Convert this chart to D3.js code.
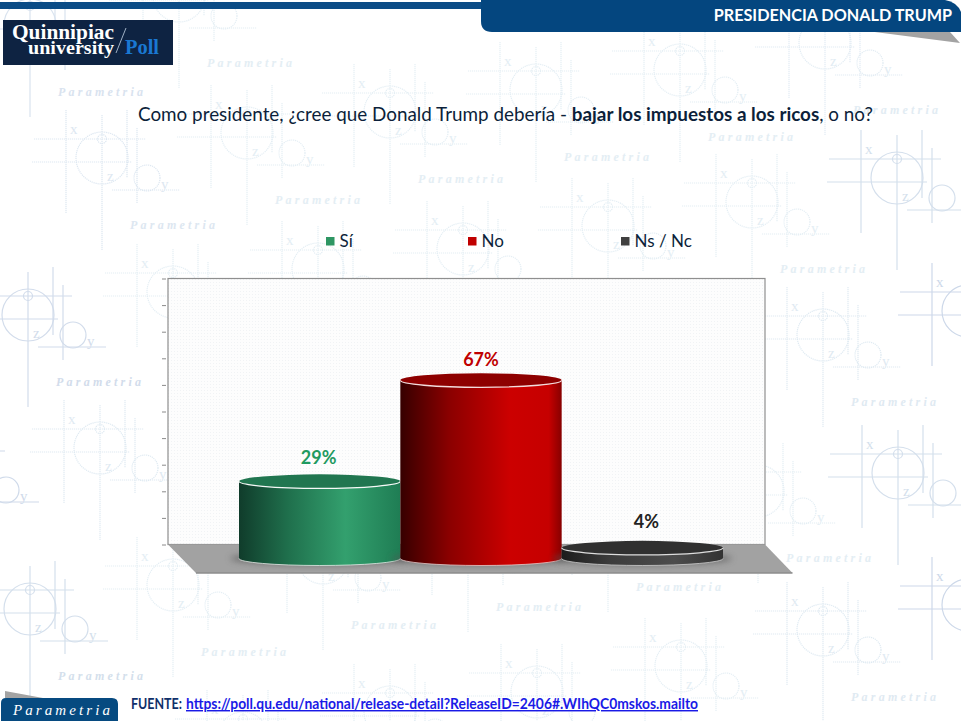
<!DOCTYPE html>
<html>
<head>
<meta charset="utf-8">
<script src="https://cdn.jsdelivr.net/npm/d3@7"></script>
<style>
  html, body { margin: 0; padding: 0; background: #fff; }
  svg { display: block; }
  text { font-family: Lato, "Noto Sans", sans-serif; }
</style>
</head>
<body>
<div id="chart"></div>
<script>
// chart data
const categories = ["Sí", "No", "Ns / Nc"];
const values = [29, 67, 4];
const valueLabels = ["29%", "67%", "4%"];
const axisTicks = [0, 10, 20, 30, 40, 50, 60, 70, 80, 90, 100];

// text
const headerTitle = "PRESIDENCIA DONALD TRUMP";
const sourceLabel = "FUENTE:";
const sourceUrl = "https://poll.qu.edu/national/release-detail?ReleaseID=2406#.WIhQC0mskos.mailto";

// looks
const barColors = [
  { top: "#217650", rim: "#f6f9f7", stops: [[0, "#103c2b"], [.3, "#1f6f4c"], [.66, "#33a06e"], [1, "#1f7d54"]] },
  { top: "#8e0000", rim: "#f3dcdc", stops: [[0, "#360000"], [.3, "#8a0000"], [.68, "#cc0000"], [.92, "#c60000"], [1, "#870000"]] },
  { top: "#303030", rim: "#dddddd", stops: [[0, "#1c1c1c"], [.3, "#3c3c3c"], [.7, "#4c4c4c"], [1, "#333333"]] }
];
const labelColors = ["#1f9a60", "#c00000", "#222222"];
const legendColors = ["#2e9663", "#c00000", "#404040"];
const legendX = [326, 468, 621];
const labelNudge = [[-1, 0], [0, 3], [4, -3]];

// watermark: big circle centre, strength (1 solid, 0 dotted, .5 in between)
const marks = [
  [30, 25, .5], [102, 158, .3], [247, 133, 0], [390, 112, 0], [179, -4, 0], [536, 90, 0],
  [680, 70, 0], [825, 43, .1], [897, 178, .7], [752, 202, 0], [608, 226, 0], [463, 249, 0],
  [318, 269, 0], [173, 292, 0], [28, 315, .8], [-39, 470, .9], [100, 448, .2], [173, 585, 0],
  [30, 609, .7], [323, 558, 0], [468, 540, 0], [608, 520, 0], [758, 491, 0], [823, 335, .2],
  [898, 473, .7], [968, 311, 1], [968, 605, 1], [823, 630, .2], [681, 666, 0], [537, 692, 0],
  [390, 712, 0], [243, 738, 0]
];
const markLines = [
  [0, -43, 0, 92], [-36, -48, -36, 55], [25, -48, 25, 20], [35, -30, 35, 45],
  [-68, -19, 44, -19], [-70, 4, 30, 4], [10, 32, 78, 32]
];

const width = 961, height = 721;
const svg = d3.select("#chart").append("svg")
    .attr("width", width)
    .attr("height", height)
    .attr("viewBox", [0, 0, width, height]);
const defs = svg.append("defs");

const markColor = d => d3.interpolateRgb("#e4eef4", "#cdd8e9")(d[2]);

// background watermark
const mark = svg.append("g").selectAll("g")
  .data(marks)
  .join("g")
    .attr("transform", d => `translate(${d[0]},${d[1]})`)
    .attr("fill", "none")
    .attr("stroke", markColor)
    .attr("stroke-width", 1.2)
    .attr("stroke-dasharray", d => d[2] > .4 ? null : "1.2 .8");

mark.selectAll("line")
  .data(markLines)
  .join("line")
    .attr("x1", d => d[0]).attr("y1", d => d[1])
    .attr("x2", d => d[2]).attr("y2", d => d[3]);
mark.append("circle").attr("r", 26);
mark.append("circle").attr("cy", -19).attr("r", 4.5);
mark.append("circle").attr("cx", 45).attr("cy", 20).attr("r", 13);

// no text for the parts that sit behind the wall, the logo or off the page
const visibleAt = (d, dx, dy, w) => {
  const px = d[0] + dx, py = d[1] + dy;
  const behindWall = px + w > 168 && px < 765 && py > 279 && py < 575;
  const behindLogo = px < 173 && py > 20 && py < 75;
  return !behindWall && !behindLogo && px >= 0 && px + w <= width && py > 36 && py < height;
};
const markText = (txt, dx, dy) => mark.filter(d => visibleAt(d, dx, dy, 8)).append("text")
    .attr("x", dx).attr("y", dy)
    .attr("fill", markColor)
    .attr("stroke", "none")
    .style("font-family", "'Liberation Serif', serif")
    .style("font-size", "15px")
    .text(txt);
markText("x", -32, -24);
markText("z", 5, 23);
markText("y", 59, 31);
mark.filter(d => visibleAt(d, 28, 71, 85)).append("text")
    .attr("x", 28).attr("y", 71)
    .attr("fill", markColor)
    .attr("stroke", "none")
    .attr("textLength", 85)
    .style("font-family", "'Liberation Serif', serif")
    .style("font-style", "italic")
    .style("font-weight", 700)
    .style("font-size", "12px")
    .text("Parametria");

// top band and header tab
svg.append("rect").attr("x", 0).attr("y", 2).attr("width", 490).attr("height", 7).attr("fill", "#0b4c86");
svg.append("path").attr("d", "M867,31 L950,32 L960,43 Z").attr("fill", "#a3a3a3");
svg.append("path")
    .attr("d", "M481,0 V21 Q481,32 492,32 H961 V12 Q957,2 945,0 Z")
    .attr("fill", "#04467f");
svg.append("text")
    .attr("x", 952).attr("y", 21)
    .attr("text-anchor", "end")
    .attr("fill", "#fff")
    .style("font-size", "16.2px")
    .style("font-weight", 700)
    .text(headerTitle);

// logo
const logo = svg.append("g");
logo.append("rect").attr("x", 3).attr("y", 20).attr("width", 170).attr("height", 45).attr("fill", "#0e2342");
const logoText = (txt, x, y, len, color, size) => logo.append("text")
    .attr("x", x).attr("y", y)
    .attr("textLength", len)
    .attr("lengthAdjust", "spacingAndGlyphs")
    .attr("fill", color)
    .style("font-family", "'Liberation Serif', serif")
    .style("font-weight", 700)
    .style("font-size", size)
    .text(txt);
logoText("Quinnipiac", 12, 39, 102, "#fff", "20px");
logoText("university", 28, 53.5, 86, "#fff", "18px");
logoText("Poll", 125, 53.5, 34, "#1a78d2", "20px");
logo.append("line").attr("x1", 126).attr("y1", 28).attr("x2", 116).attr("y2", 53).attr("stroke", "#9fb0c4");

// question
const question = svg.append("text")
    .attr("x", 138).attr("y", 121)
    .attr("fill", "#0c1f3a")
    .style("font-size", "18.85px");
question.append("tspan").text("Como presidente, ¿cree que Donald Trump debería - ");
question.append("tspan").style("font-weight", 700).text("bajar los impuestos a los ricos");
question.append("tspan").text(", o no?");

// legend
const legend = svg.append("g").selectAll("g")
  .data(categories)
  .join("g")
    .attr("transform", (d, i) => `translate(${legendX[i]},237)`);
legend.append("rect")
    .attr("width", 8.5).attr("height", 8.5)
    .attr("fill", (d, i) => legendColors[i]);
legend.append("text")
    .attr("x", 13.5).attr("y", 10)
    .attr("fill", "#0c1f3a")
    .style("font-size", "17px")
    .text(d => d);

// scales
const x = d3.scaleBand().domain(categories).range([239, 723]).padding(0);
const y = d3.scaleLinear().domain([0, 100]).range([544.5, 278.5]);
const frontOffset = 14;   // bars stand in front of the back wall
const ry = 7;

// wall and floor
const speck = defs.append("pattern")
    .attr("id", "speck").attr("width", 3).attr("height", 3)
    .attr("patternUnits", "userSpaceOnUse");
speck.append("rect").attr("width", 3).attr("height", 3).attr("fill", "#fdfdfd");
speck.append("rect").attr("width", 1).attr("height", 1).attr("fill", "#f1f3f5");

svg.append("rect")
    .attr("x", 168).attr("y", y(100))
    .attr("width", 597).attr("height", y(0) - y(100))
    .attr("fill", "url(#speck)")
    .attr("stroke", "#8f8f8f").attr("stroke-width", 1.2);
svg.append("path")
    .attr("d", `M168,${y(0)} H765 L792.5,573 H196 Z`)
    .attr("fill", "#a2a2a2");
svg.append("line")
    .attr("x1", 196).attr("x2", 792.5).attr("y1", 573).attr("y2", 573)
    .attr("stroke", "#8c8c8c").attr("stroke-width", 1.5);

const axis = svg.append("g")
    .attr("transform", "translate(166,0)")
    .call(d3.axisLeft(y).tickValues(axisTicks).tickSize(4).tickSizeOuter(0).tickFormat(""));
axis.select(".domain").remove();
axis.selectAll("line").attr("stroke", "#8a8a8a");

// cylinders
const grad = defs.selectAll("linearGradient")
  .data(barColors)
  .join("linearGradient")
    .attr("id", (d, i) => `bar${i}`);
grad.selectAll("stop")
  .data(d => d.stops)
  .join("stop")
    .attr("offset", d => d[0])
    .attr("stop-color", d => d[1]);

const shadow = defs.append("filter").attr("id", "blur")
    .attr("x", "-20%").attr("width", "140%").attr("y", "-100%").attr("height", "300%");
shadow.append("feGaussianBlur").attr("stdDeviation", 3);

const bars = svg.append("g").selectAll("g")
  .data(categories)
  .join("g");

bars.append("ellipse")
    .attr("cx", d => x(d) + x.bandwidth() / 2)
    .attr("cy", y(0) + frontOffset)
    .attr("rx", x.bandwidth() / 2 + 9)
    .attr("ry", ry)
    .attr("fill", "#555")
    .attr("opacity", .6)
    .attr("filter", "url(#blur)");

const bodyPath = (d, i) => {
  const x0 = x(d), x1 = x0 + x.bandwidth(), rx = x.bandwidth() / 2;
  const yBase = y(0) + frontOffset, yTop = y(values[i]) + frontOffset;
  return `M${x0},${yTop} V${yBase} A${rx},${ry} 0 0 0 ${x1},${yBase} V${yTop} Z`;
};
bars.append("path")
    .attr("d", bodyPath)
    .attr("fill", (d, i) => `url(#bar${i})`);
// white edge along the foot
bars.append("path")
    .attr("d", d => {
      const x0 = x(d), x1 = x0 + x.bandwidth(), rx = x.bandwidth() / 2, yBase = y(0) + frontOffset;
      return `M${x0},${yBase} A${rx},${ry} 0 0 0 ${x1},${yBase}`;
    })
    .attr("fill", "none")
    .attr("stroke", (d, i) => barColors[i].rim)
    .attr("stroke-opacity", .7)
    .attr("stroke-width", 1);
bars.append("ellipse")
    .attr("cx", d => x(d) + x.bandwidth() / 2)
    .attr("cy", (d, i) => y(values[i]) + frontOffset)
    .attr("rx", x.bandwidth() / 2)
    .attr("ry", ry)
    .attr("fill", (d, i) => barColors[i].top);
bars.append("path")
    .attr("d", (d, i) => {
      const x0 = x(d), x1 = x0 + x.bandwidth(), rx = x.bandwidth() / 2, yTop = y(values[i]) + frontOffset;
      return `M${x0},${yTop} A${rx},${ry} 0 0 0 ${x1},${yTop}`;
    })
    .attr("fill", "none")
    .attr("stroke", (d, i) => barColors[i].rim)
    .attr("stroke-width", 1.3);

bars.append("text")
    .attr("x", (d, i) => x(d) + x.bandwidth() / 2 + labelNudge[i][0])
    .attr("y", (d, i) => y(values[i]) + frontOffset - 17 + labelNudge[i][1])
    .attr("text-anchor", "middle")
    .attr("fill", (d, i) => labelColors[i])
    .style("font-size", "18px")
    .style("font-weight", 700)
    .text((d, i) => valueLabels[i]);

// bottom left tab
svg.append("path").attr("d", "M5,691 L43,698 H5 Z").attr("fill", "#a3a3a3");
svg.append("path")
    .attr("d", "M1,721 V703 Q1,698 6,698 H112 Q118,698 118,704 V721 Z")
    .attr("fill", "#064a80");
svg.append("text")
    .attr("x", 13).attr("y", 715)
    .attr("textLength", 97)
    .attr("fill", "#fff")
    .style("font-family", "'Liberation Serif', serif")
    .style("font-style", "italic")
    .style("font-size", "15px")
    .text("Parametria");

// source line
svg.append("text")
    .attr("x", 131).attr("y", 709)
    .attr("textLength", 51)
    .attr("lengthAdjust", "spacingAndGlyphs")
    .attr("fill", "#10306a")
    .style("font-size", "14.5px")
    .style("font-weight", 700)
    .text(sourceLabel);
svg.append("text")
    .attr("x", 186).attr("y", 709)
    .attr("textLength", 512)
    .attr("lengthAdjust", "spacingAndGlyphs")
    .attr("fill", "#1a1ae6")
    .style("font-size", "14.5px")
    .style("font-weight", 700)
    .style("text-decoration", "underline")
    .text(sourceUrl);
</script>
</body>
</html>
